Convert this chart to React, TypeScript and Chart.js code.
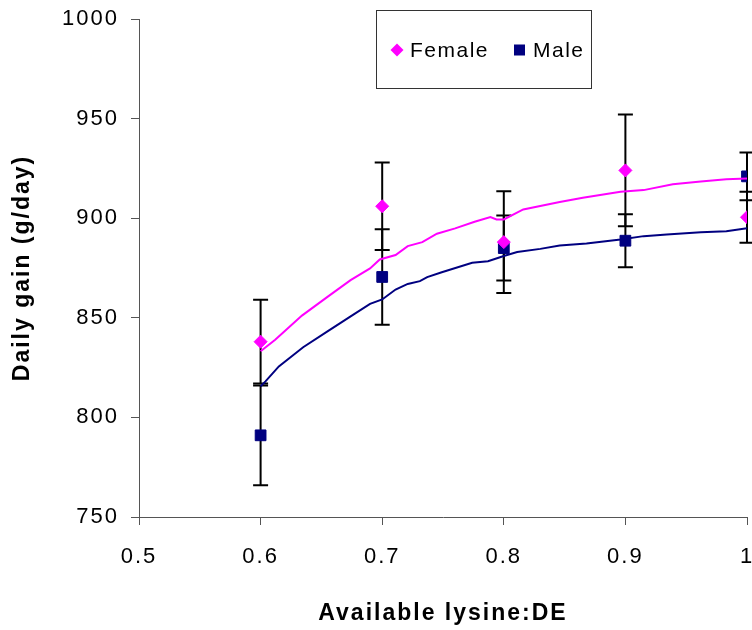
import React, { useEffect, useRef } from "react";
import { Chart, registerables } from "chart.js";

Chart.register(...registerables);

// Measured means (g/day) at each available lysine:DE level
const lysineLevels = [0.6, 0.7, 0.8, 0.9, 1.0];
const femaleGain = [838, 906, 888, 924, 900.5];
const femaleErr = [21, 22, 25.5, 28, 12.8];
const maleGain = [791, 870.5, 885, 888.7, 921];
const maleErr = [25, 24, 16.3, 13.3, 12];

// Fitted response curves
const femaleFitX = [0.6, 0.612, 0.634, 0.655, 0.674, 0.69, 0.698, 0.711, 0.721, 0.733, 0.745, 0.76, 0.776, 0.789, 0.794, 0.8, 0.816, 0.846, 0.865, 0.896, 0.915, 0.939, 0.962, 0.983, 1.0];
const femaleFitY = [833.2, 839, 851.1, 860.5, 868.9, 874.8, 879.3, 881.5, 886, 888, 892.2, 894.9, 898.2, 900.6, 899.4, 899.4, 904.4, 908.1, 910.3, 913.3, 914.1, 917, 918.4, 919.5, 919.9];
const maleFitX = [0.6, 0.604, 0.615, 0.635, 0.655, 0.675, 0.69, 0.7, 0.711, 0.721, 0.731, 0.737, 0.749, 0.774, 0.787, 0.8, 0.811, 0.83, 0.846, 0.868, 0.896, 0.915, 0.934, 0.962, 0.983, 1.0];
const maleFitY = [815.6, 818.1, 825.6, 835.2, 843.2, 851.1, 857, 859.2, 864.2, 867, 868.4, 870.4, 872.9, 877.6, 878.4, 881, 883, 884.6, 886.3, 887.3, 889.3, 891, 891.8, 893, 893.5, 894.9];

const seriesNames = ["Female", "Male"];
const FEMALE_COLOR = "#FF00FF";
const MALE_COLOR = "#000080";
const AXIS_COLOR = "#555555";
const FONT = "'Liberation Sans', Arial, sans-serif";

const toPoints = (xs: number[], ys: number[]) => xs.map((x, i) => ({ x, y: ys[i] }));

// Wider glyph spacing for all axis text
const spacingPlugin = {
  id: "spacing",
  beforeDraw(chart: any) {
    (chart.ctx as any).letterSpacing = "2px";
  },
};

// Vertical error bars with caps, drawn under the markers
const errorBarPlugin = {
  id: "errorBars",
  beforeDatasetsDraw(chart: any) {
    const { ctx, scales } = chart;
    const xs = scales.x;
    const ys = scales.y;
    const groups = [
      { means: femaleGain, errs: femaleErr },
      { means: maleGain, errs: maleErr },
    ];
    ctx.save();
    ctx.strokeStyle = "#000";
    ctx.lineWidth = 2;
    const cap = 7.5;
    groups.forEach((g) => {
      lysineLevels.forEach((lv, i) => {
        const px = xs.getPixelForValue(lv);
        const top = ys.getPixelForValue(g.means[i] + g.errs[i]);
        const bot = ys.getPixelForValue(g.means[i] - g.errs[i]);
        ctx.beginPath();
        ctx.moveTo(px, top);
        ctx.lineTo(px, bot);
        ctx.moveTo(px - cap, top);
        ctx.lineTo(px + cap, top);
        ctx.moveTo(px - cap, bot);
        ctx.lineTo(px + cap, bot);
        ctx.stroke();
      });
    });
    ctx.restore();
  },
};

// Boxed legend inside the plot
const boxLegendPlugin = {
  id: "boxLegend",
  afterDraw(chart: any) {
    const { ctx } = chart;
    ctx.save();
    (ctx as any).letterSpacing = "1.5px";
    ctx.fillStyle = "#fff";
    ctx.fillRect(376.5, 10.5, 215, 78);
    ctx.strokeStyle = "#333";
    ctx.lineWidth = 1;
    ctx.strokeRect(376.5, 10.5, 215, 78);

    // diamond
    const dx = 397, dy = 50, r = 6.5;
    ctx.fillStyle = FEMALE_COLOR;
    ctx.beginPath();
    ctx.moveTo(dx, dy - r);
    ctx.lineTo(dx + r, dy);
    ctx.lineTo(dx, dy + r);
    ctx.lineTo(dx - r, dy);
    ctx.closePath();
    ctx.fill();

    // square
    ctx.fillStyle = MALE_COLOR;
    ctx.fillRect(514, 44.5, 11, 11);

    ctx.fillStyle = "#000";
    ctx.font = `21px ${FONT}`;
    ctx.textBaseline = "alphabetic";
    ctx.textAlign = "left";
    ctx.fillText(seriesNames[0], 410, 57);
    ctx.fillText(seriesNames[1], 533, 57);
    ctx.restore();
  },
};

export default function App() {
  const canvasRef = useRef<HTMLCanvasElement | null>(null);

  useEffect(() => {
    if (!canvasRef.current) return;
    const chart = new Chart(canvasRef.current, {
      type: "scatter",
      data: {
        datasets: [
          {
            label: "Female fit",
            data: toPoints(femaleFitX, femaleFitY),
            showLine: true,
            borderColor: FEMALE_COLOR,
            borderWidth: 2,
            pointRadius: 0,
            tension: 0,
          },
          {
            label: "Male fit",
            data: toPoints(maleFitX, maleFitY),
            showLine: true,
            borderColor: MALE_COLOR,
            borderWidth: 2,
            pointRadius: 0,
            tension: 0,
          },
          {
            label: seriesNames[0],
            data: toPoints(lysineLevels, femaleGain),
            pointStyle: "rectRot",
            pointRadius: 6.5,
            backgroundColor: FEMALE_COLOR,
            borderColor: FEMALE_COLOR,
            borderWidth: 1,
          },
          {
            label: seriesNames[1],
            data: toPoints(lysineLevels, maleGain),
            pointStyle: "rect",
            pointRadius: 7.6,
            backgroundColor: MALE_COLOR,
            borderColor: MALE_COLOR,
            borderWidth: 1,
          },
        ],
      },
      options: {
        responsive: false,
        animation: false,
        layout: { autoPadding: false, padding: { top: 19, right: 0, left: 0, bottom: 0 } },
        plugins: {
          legend: { display: false },
          tooltip: { enabled: false },
        },
        scales: {
          x: {
            type: "linear",
            min: 0.5,
            max: 1,
            ticks: {
              stepSize: 0.1,
              color: "#000",
              padding: 19,
              font: { family: FONT, size: 22 },
              maxRotation: 0,
              callback: (v: any) => String(Number(Number(v).toFixed(1))),
            },
            grid: {
              drawOnChartArea: false,
              drawTicks: true,
              tickLength: 8,
              color: AXIS_COLOR,
            },
            border: { display: true, color: AXIS_COLOR, width: 1 },
            title: {
              display: true,
              text: "Available lysine:DE",
              color: "#000",
              font: { family: FONT, size: 23, weight: "bold" },
              padding: { top: 0, bottom: 3 },
            },
            afterFit(scale: any) {
              scale.height = 113;
              scale.paddingLeft = 0;
              scale.paddingRight = 5;
            },
          },
          y: {
            type: "linear",
            min: 750,
            max: 1000,
            ticks: {
              stepSize: 50,
              color: "#000",
              padding: 12,
              font: { family: FONT, size: 22 },
              callback: (v: any) => String(v),
            },
            grid: {
              drawOnChartArea: false,
              drawTicks: true,
              tickLength: 8,
              color: AXIS_COLOR,
            },
            border: { display: true, color: AXIS_COLOR, width: 1 },
            title: {
              display: true,
              text: "Daily gain (g/day)",
              color: "#000",
              font: { family: FONT, size: 23, weight: "bold" },
              padding: { top: 9, bottom: 0 },
            },
            afterFit(scale: any) {
              scale.width = 139;
              scale.paddingTop = 0;
              scale.paddingBottom = 0;
            },
          },
        },
      },
      plugins: [spacingPlugin, errorBarPlugin, boxLegendPlugin],
    });
    return () => chart.destroy();
  }, []);

  return (
    <div style={{ position: "fixed", left: 0, top: 0, width: 752, height: 630, background: "#fff" }}>
      <canvas ref={canvasRef} width={752} height={630} style={{ display: "block" }} />
    </div>
  );
}
